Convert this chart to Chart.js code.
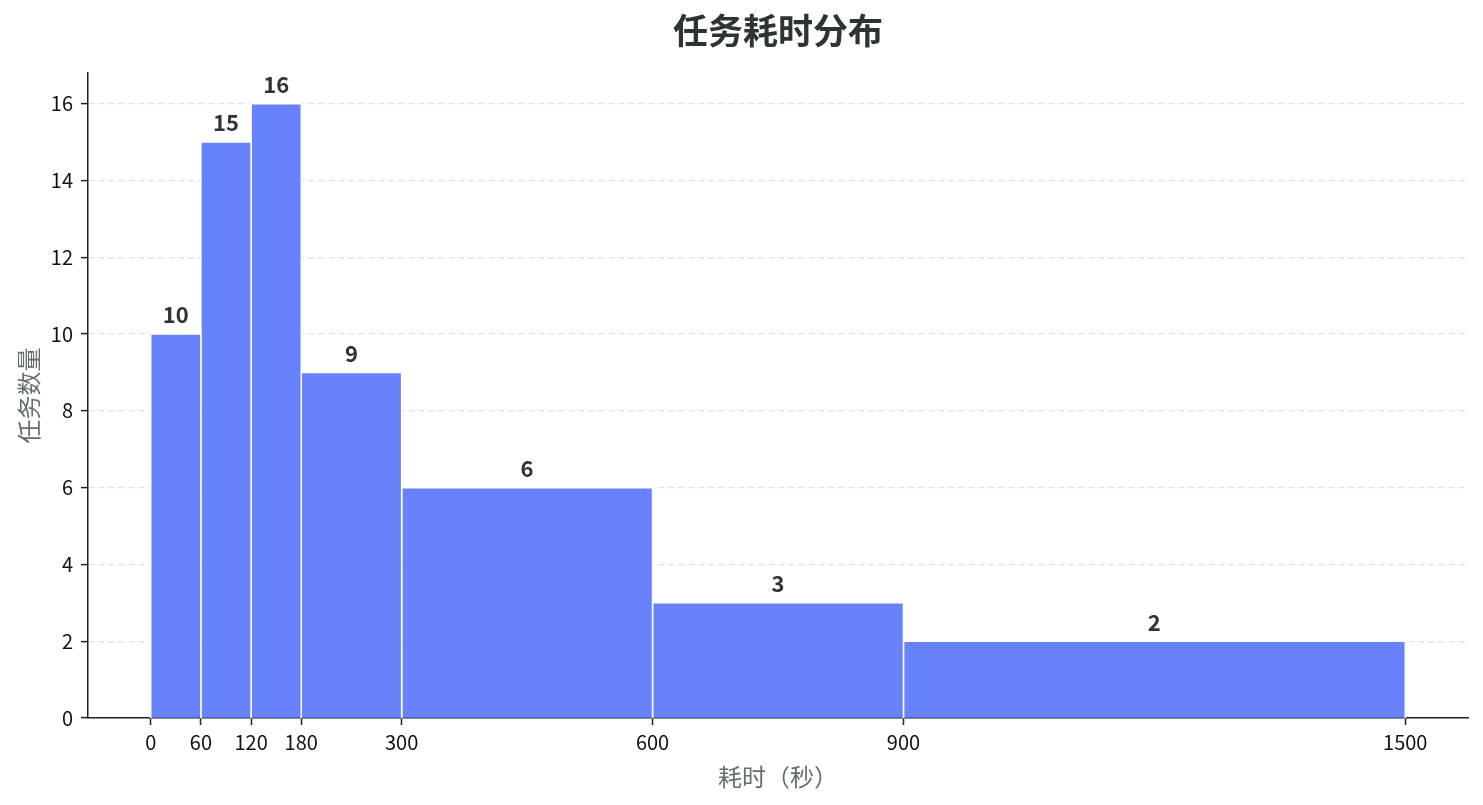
<!DOCTYPE html>
<html>
<head>
<meta charset="utf-8">
<script src="https://cdn.jsdelivr.net/npm/chart.js@4.4.0/dist/chart.umd.js"></script>
<style>
  html, body { margin: 0; padding: 0; background: #fff; }
  #wrap { width: 1483px; height: 805px; }
</style>
</head>
<body>
<div id="wrap"><canvas id="chart" width="1483" height="805"></canvas></div>
<script>
// histogram bins (seconds) and task counts
const binEdges = [0, 60, 120, 180, 300, 600, 900, 1500];
const counts = [10, 15, 16, 9, 6, 3, 2];
const xTicks = [0, 60, 120, 180, 300, 600, 900, 1500];
const yTicks = [0, 2, 4, 6, 8, 10, 12, 14, 16];

const chartTitle = '任务耗时分布';
const xTitle = '耗时（秒）';
const yTitle = '任务数量';

const FONT = '"Noto Sans CJK SC", "Noto Sans", sans-serif';
const barFill = 'rgba(77, 108, 250, 0.85)';

// one closed step outline per bin, filled down to zero
const datasets = counts.map((c, i) => ({
  data: [
    { x: binEdges[i], y: 0 },
    { x: binEdges[i], y: c },
    { x: binEdges[i + 1], y: c },
    { x: binEdges[i + 1], y: 0 }
  ],
  showLine: true,
  fill: 'origin',
  backgroundColor: barFill,
  borderColor: '#ffffff',
  borderWidth: 1.5,
  pointRadius: 0,
  tension: 0
}));

// count labels above each bin + centered title over plot area
const labelPlugin = {
  id: 'binLabels',
  afterDatasetsDraw(chart) {
    const { ctx, scales: { x, y }, chartArea } = chart;
    ctx.save();
    ctx.fillStyle = '#2d3436';
    ctx.textAlign = 'center';
    ctx.textBaseline = 'bottom';
    ctx.font = 'bold 22px ' + FONT;
    counts.forEach((c, i) => {
      const cx = x.getPixelForValue((binEdges[i] + binEdges[i + 1]) / 2);
      ctx.fillText(String(c), cx, y.getPixelForValue(c) - 8);
    });
    ctx.font = 'bold 35px ' + FONT;
    ctx.textBaseline = 'middle';
    ctx.fillText(chartTitle, (chartArea.left + chartArea.right) / 2, 31);
    ctx.restore();
  }
};

new Chart(document.getElementById('chart'), {
  type: 'scatter',
  data: { datasets },
  plugins: [labelPlugin],
  options: {
    responsive: false,
    animation: false,
    devicePixelRatio: 1,
    layout: { padding: { top: 73, right: 15, bottom: 0, left: 0 } },
    plugins: {
      legend: { display: false },
      tooltip: { enabled: false },
      title: { display: false }
    },
    scales: {
      x: {
        type: 'linear',
        min: -75,
        max: 1575,
        afterBuildTicks: axis => { axis.ticks = xTicks.map(v => ({ value: v })); },
        afterFit: axis => { axis.height = 87; },
        ticks: {
          color: '#111',
          font: { size: 20, family: FONT },
          padding: 5,
          maxRotation: 0,
          autoSkip: false,
          callback: v => String(v)
        },
        grid: {
          drawOnChartArea: false,
          drawTicks: true,
          tickLength: 7,
          tickColor: '#222',
          tickWidth: 1.5
        },
        border: { color: '#222', width: 1.5 },
        title: {
          display: true,
          text: xTitle,
          color: '#636e72',
          font: { size: 24, family: FONT },
          padding: { top: 4, bottom: 14 }
        }
      },
      y: {
        min: 0,
        max: 16.8,
        afterBuildTicks: axis => { axis.ticks = yTicks.map(v => ({ value: v })); },
        afterFit: axis => { axis.width = 88; },
        ticks: {
          color: '#111',
          font: { size: 20, family: FONT },
          padding: 8
        },
        grid: {
          color: '#e0e0e0',
          lineWidth: 1.2,
          drawTicks: true,
          tickLength: 7,
          tickColor: '#222',
          tickWidth: 1.5
        },
        border: { color: '#222', width: 1.5, dash: [6, 4] },
        title: {
          display: true,
          text: yTitle,
          color: '#636e72',
          font: { size: 24, family: FONT },
          padding: { top: 14, bottom: 0 }
        }
      }
    }
  }
});
</script>
</body>
</html>
